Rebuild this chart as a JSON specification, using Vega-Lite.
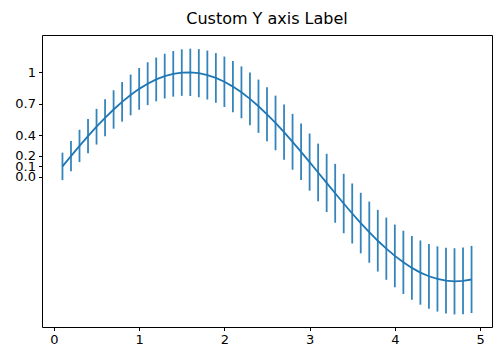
{
  "$schema": "https://vega.github.io/schema/vega-lite/v6.json",
  "width": 450,
  "height": 292,
  "autosize": "none",
  "padding": {"left": 42, "top": 35, "right": 8, "bottom": 29},
  "title": {"text": "Custom Y axis Label", "font": "DejaVu Sans", "fontSize": 16, "fontWeight": "normal", "color": "black", "offset": 8},
  "config": {
    "view": {"stroke": "black", "strokeWidth": 1},
    "axis": {"grid": false, "domain": false, "tickColor": "black", "tickSize": 3.5, "labelFont": "DejaVu Sans", "labelFontSize": 13, "labelColor": "black", "labelPadding": 3, "title": null}
  },
  "data": {"values": [
    {"x": 0.1, "y": 0.0998, "lo": -0.0318, "hi": 0.2314},
    {"x": 0.2, "y": 0.1987, "lo": 0.0540, "hi": 0.3434},
    {"x": 0.3, "y": 0.2955, "lo": 0.1407, "hi": 0.4503},
    {"x": 0.4, "y": 0.3894, "lo": 0.2262, "hi": 0.5526},
    {"x": 0.5, "y": 0.4794, "lo": 0.3087, "hi": 0.6501},
    {"x": 0.6, "y": 0.5646, "lo": 0.3871, "hi": 0.7421},
    {"x": 0.7, "y": 0.6442, "lo": 0.4605, "hi": 0.8279},
    {"x": 0.8, "y": 0.7174, "lo": 0.5280, "hi": 0.9068},
    {"x": 0.9, "y": 0.7833, "lo": 0.5884, "hi": 0.9782},
    {"x": 1.0, "y": 0.8415, "lo": 0.6415, "hi": 1.0415},
    {"x": 1.1, "y": 0.8912, "lo": 0.6863, "hi": 1.0961},
    {"x": 1.2, "y": 0.9320, "lo": 0.7225, "hi": 1.1415},
    {"x": 1.3, "y": 0.9636, "lo": 0.7496, "hi": 1.1776},
    {"x": 1.4, "y": 0.9854, "lo": 0.7671, "hi": 1.2037},
    {"x": 1.5, "y": 0.9975, "lo": 0.7750, "hi": 1.2200},
    {"x": 1.6, "y": 0.9996, "lo": 0.7731, "hi": 1.2261},
    {"x": 1.7, "y": 0.9917, "lo": 0.7613, "hi": 1.2221},
    {"x": 1.8, "y": 0.9738, "lo": 0.7396, "hi": 1.2080},
    {"x": 1.9, "y": 0.9463, "lo": 0.7085, "hi": 1.1841},
    {"x": 2.0, "y": 0.9093, "lo": 0.6679, "hi": 1.1507},
    {"x": 2.1, "y": 0.8632, "lo": 0.6183, "hi": 1.1081},
    {"x": 2.2, "y": 0.8085, "lo": 0.5602, "hi": 1.0568},
    {"x": 2.3, "y": 0.7457, "lo": 0.4940, "hi": 0.9974},
    {"x": 2.4, "y": 0.6755, "lo": 0.4206, "hi": 0.9304},
    {"x": 2.5, "y": 0.5985, "lo": 0.3404, "hi": 0.8566},
    {"x": 2.6, "y": 0.5155, "lo": 0.2543, "hi": 0.7767},
    {"x": 2.7, "y": 0.4274, "lo": 0.1631, "hi": 0.6917},
    {"x": 2.8, "y": 0.3350, "lo": 0.0677, "hi": 0.6023},
    {"x": 2.9, "y": 0.2392, "lo": -0.0311, "hi": 0.5095},
    {"x": 3.0, "y": 0.1411, "lo": -0.1321, "hi": 0.4143},
    {"x": 3.1, "y": 0.0416, "lo": -0.2345, "hi": 0.3177},
    {"x": 3.2, "y": -0.0584, "lo": -0.3373, "hi": 0.2205},
    {"x": 3.3, "y": -0.1577, "lo": -0.4394, "hi": 0.1240},
    {"x": 3.4, "y": -0.2555, "lo": -0.5399, "hi": 0.0289},
    {"x": 3.5, "y": -0.3508, "lo": -0.6379, "hi": -0.0637},
    {"x": 3.6, "y": -0.4425, "lo": -0.7322, "hi": -0.1528},
    {"x": 3.7, "y": -0.5298, "lo": -0.8222, "hi": -0.2374},
    {"x": 3.8, "y": -0.6119, "lo": -0.9068, "hi": -0.3170},
    {"x": 3.9, "y": -0.6878, "lo": -0.9853, "hi": -0.3903},
    {"x": 4.0, "y": -0.7568, "lo": -1.0568, "hi": -0.4568},
    {"x": 4.1, "y": -0.8183, "lo": -1.1208, "hi": -0.5158},
    {"x": 4.2, "y": -0.8716, "lo": -1.1765, "hi": -0.5667},
    {"x": 4.3, "y": -0.9162, "lo": -1.2236, "hi": -0.6088},
    {"x": 4.4, "y": -0.9516, "lo": -1.2614, "hi": -0.6418},
    {"x": 4.5, "y": -0.9775, "lo": -1.2896, "hi": -0.6654},
    {"x": 4.6, "y": -0.9937, "lo": -1.3082, "hi": -0.6792},
    {"x": 4.7, "y": -0.9999, "lo": -1.3167, "hi": -0.6831},
    {"x": 4.8, "y": -0.9962, "lo": -1.3153, "hi": -0.6771},
    {"x": 4.9, "y": -0.9825, "lo": -1.3039, "hi": -0.6611}
  ]},
  "encoding": {
    "x": {"field": "x", "type": "quantitative", "scale": {"domain": [-0.14, 5.14], "nice": false, "zero": false},
      "axis": {"values": [0, 1, 2, 3, 4, 5], "format": "d"}}
  },
  "layer": [
    {
      "mark": {"type": "rule", "color": "#1f77b4", "strokeWidth": 1.8, "opacity": 0.9},
      "encoding": {
        "y": {"field": "lo", "type": "quantitative", "scale": {"domain": [-1.437, 1.357], "nice": false, "zero": false},
          "axis": {"values": [0, 0.1, 0.2, 0.4, 0.7, 1], "labelOverlap": false, "labelBound": false, "labelExpr": "datum.value == 1 ? '1' : format(datum.value, '.1f')"}},
        "y2": {"field": "hi"}
      }
    },
    {
      "mark": {"type": "line", "color": "#1f77b4", "strokeWidth": 1.8},
      "encoding": {
        "y": {"field": "y", "type": "quantitative"}
      }
    }
  ]
}
